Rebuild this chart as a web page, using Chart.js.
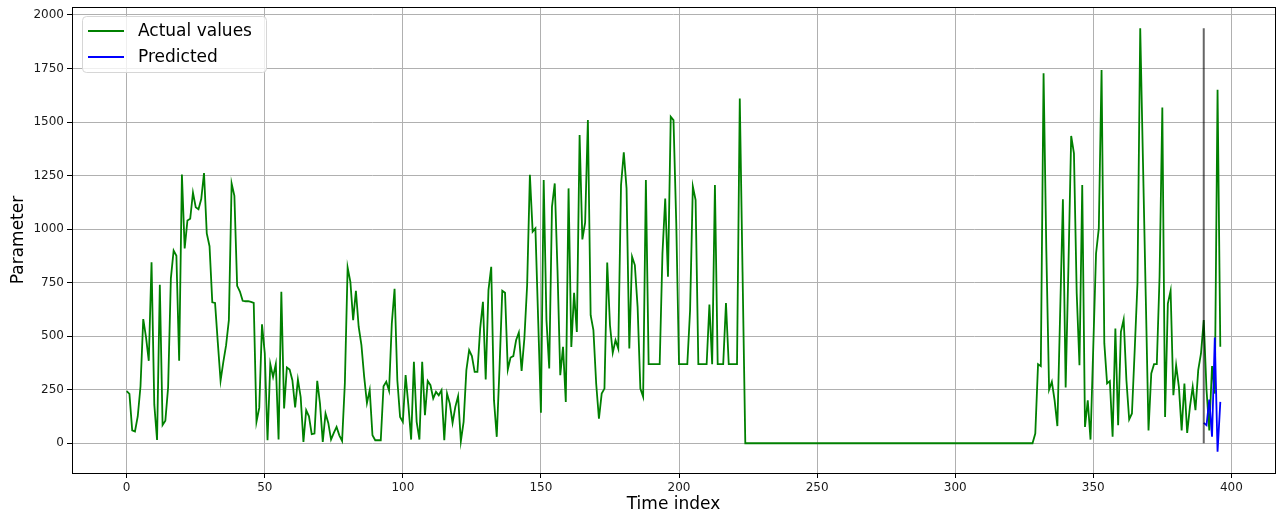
<!DOCTYPE html>
<html>
<head>
<meta charset="utf-8">
<title>Actual values vs Predicted</title>
<script src="https://cdn.jsdelivr.net/npm/chart.js@4/dist/chart.umd.min.js"></script>
<style>
  html, body { margin: 0; padding: 0; background: #fff; }
  #wrap { width: 1279px; height: 520px; position: relative; }
</style>
</head>
<body>
<div id="wrap"><canvas id="chart"></canvas></div>
<script>
// 实际值（时间索引 0..396）
const actualValues = [
    243, 230, 60, 55, 125, 265, 580, 495, 385, 845,
    180, 15, 740, 85, 105, 260, 770, 900, 875, 385,
    1255, 910, 1040, 1048, 1170, 1102, 1093, 1140, 1262, 980,
    920, 658, 655, 470, 292, 380, 458, 575, 1213, 1155,
    735, 708, 665, 663, 663, 660, 655, 100, 165, 555,
    420, 14, 370, 310, 370, 17, 707, 162, 354, 344,
    294, 167, 297, 216, 6, 154, 126, 42, 45, 291,
    185, 6, 139, 95, 17, 48, 76, 37, 11, 280,
    821, 754, 575, 712, 544, 458, 310, 188, 248, 37,
    14, 14, 14, 266, 287, 245, 559, 721, 294, 123,
    100, 318, 178, 17, 380, 100, 17, 380, 131, 291,
    271, 209, 240, 224, 248, 14, 232, 185, 95, 170,
    220, 9, 100, 341, 435, 407, 333, 333, 536, 660,
    298, 715, 824, 200, 30, 350, 712, 703, 344, 400,
    407, 481, 517, 338, 489, 738, 1254, 988, 1003, 575,
    142, 1229, 575, 349, 1104, 1213, 808, 318, 450, 193,
    1190, 450, 702, 520, 1439, 952, 1030, 1509, 598, 528,
    279, 115, 232, 255, 844, 551, 422, 481, 442, 1206,
    1358, 1190, 442, 871, 832, 637, 255, 217, 1229, 369,
    369, 369, 369, 369, 886, 1143, 777, 1525, 1509, 1027,
    369, 369, 369, 369, 620, 1199, 1136, 369, 369, 369,
    369, 648, 369, 1206, 369, 369, 369, 655, 369, 369,
    369, 369, 1610, 800, 0, 0, 0, 0, 0, 0,
    0, 0, 0, 0, 0, 0, 0, 0, 0, 0,
    0, 0, 0, 0, 0, 0, 0, 0, 0, 0,
    0, 0, 0, 0, 0, 0, 0, 0, 0, 0,
    0, 0, 0, 0, 0, 0, 0, 0, 0, 0,
    0, 0, 0, 0, 0, 0, 0, 0, 0, 0,
    0, 0, 0, 0, 0, 0, 0, 0, 0, 0,
    0, 0, 0, 0, 0, 0, 0, 0, 0, 0,
    0, 0, 0, 0, 0, 0, 0, 0, 0, 0,
    0, 0, 0, 0, 0, 0, 0, 0, 0, 0,
    0, 0, 0, 0, 0, 0, 0, 0, 0, 45,
    369, 360, 1728, 900, 250, 287, 200, 80, 606, 1139,
    260, 824, 1435, 1354, 700, 364, 1206, 76, 200, 17,
    450, 886, 1003, 1743, 466, 279, 290, 30, 536, 84,
    520, 578, 294, 111, 139, 435, 746, 1938, 1312, 686,
    60, 326, 369, 369, 777, 1568, 123, 652, 712, 224,
    364, 263, 60, 279, 48, 170, 263, 154, 341, 419,
    575, 250, 60, 360, 232, 1650, 450
];

// 预测值（从索引 390 开始）
const predictedStart = 390;
const predictedValues = [95, 84, 204, 30, 494, -40, 193];

// 分割竖线
const splitIndex = 390;
const splitRange = [0, 1938];

// 坐标轴刻度
const xTickValues = [0, 50, 100, 150, 200, 250, 300, 350, 400];
const yTickValues = [0, 250, 500, 750, 1000, 1250, 1500, 1750, 2000];
const xLimits = [-19.8, 415.8];
const yLimits = [-139, 2037];

const FONT = "'DejaVu Sans', 'Noto Sans', sans-serif";

// 边框（四条边）
const framePlugin = {
    id: 'frame',
    afterDatasetsDraw(chart) {
        const a = chart.chartArea;
        const ctx = chart.ctx;
        ctx.save();
        ctx.strokeStyle = '#000';
        ctx.lineWidth = 1;
        ctx.strokeRect(Math.round(a.left) + 0.5, Math.round(a.top) + 0.5,
            Math.round(a.right - a.left), Math.round(a.bottom - a.top));
        ctx.restore();
    }
};

// 图例（matplotlib 风格，画在图内左上角）
const boxLegendPlugin = {
    id: 'boxLegend',
    afterDraw(chart) {
        const ctx = chart.ctx;
        const items = chart.data.datasets.filter(d => d.label);
        const x = 82, y = 16, w = 184, h = 56;
        ctx.save();
        ctx.beginPath();
        ctx.roundRect(x + 0.5, y + 0.5, w, h, 4);
        ctx.fillStyle = 'rgba(255,255,255,0.8)';
        ctx.fill();
        ctx.strokeStyle = '#d6d6d6';
        ctx.lineWidth = 1;
        ctx.stroke();
        ctx.font = '17px ' + FONT;
        ctx.textBaseline = 'middle';
        ctx.fillStyle = '#000';
        items.forEach((d, k) => {
            const cy = 31 + k * 26;
            ctx.beginPath();
            ctx.moveTo(88, cy);
            ctx.lineTo(124, cy);
            ctx.strokeStyle = d.borderColor;
            ctx.lineWidth = 1.8;
            ctx.stroke();
            ctx.fillText(d.label, 138, cy + 1);
        });
        ctx.restore();
    }
};

document.addEventListener('DOMContentLoaded', function() {
    const ctx = document.getElementById('chart');
    new Chart(ctx, {
        type: 'line',
        data: {
            datasets: [{
                label: 'Actual values',
                data: actualValues.map((v, i) => ({ x: i, y: v })),
                borderColor: '#008000',
                borderWidth: 1.8,
                pointRadius: 0,
                tension: 0,
                order: 3
            }, {
                label: 'Predicted',
                data: predictedValues.map((v, k) => ({ x: predictedStart + k, y: v })),
                borderColor: '#0000ff',
                borderWidth: 1.8,
                pointRadius: 0,
                tension: 0,
                order: 2
            }, {
                label: '',
                data: splitRange.map(v => ({ x: splitIndex, y: v })),
                borderColor: 'rgba(0,0,0,0.6)',
                borderWidth: 2,
                pointRadius: 0,
                order: 1
            }]
        },
        options: {
            responsive: true,
            maintainAspectRatio: false,
            animation: false,
            events: [],
            layout: {
                padding: { top: 7, right: 4, left: 0, bottom: 0 }
            },
            plugins: {
                legend: { display: false },
                tooltip: { enabled: false }
            },
            scales: {
                x: {
                    type: 'linear',
                    min: xLimits[0],
                    max: xLimits[1],
                    afterBuildTicks: s => { s.ticks = xTickValues.map(v => ({ value: v })); },
                    afterFit: s => {
                        s.height = 47;
                        s.paddingLeft = 0;
                        s.paddingRight = 0;
                    },
                    border: { display: false },
                    grid: {
                        color: '#b0b0b0',
                        lineWidth: 1,
                        drawTicks: true,
                        tickLength: 5,
                        tickColor: '#000'
                    },
                    ticks: {
                        color: '#1a1a1a',
                        padding: 3,
                        maxRotation: 0,
                        callback: v => String(v),
                        font: { family: FONT, size: 12 }
                    },
                    title: {
                        display: true,
                        text: 'Time index',
                        color: '#000',
                        padding: { top: 0, bottom: 5 },
                        font: { family: FONT, size: 17 }
                    }
                },
                y: {
                    type: 'linear',
                    min: yLimits[0],
                    max: yLimits[1],
                    afterBuildTicks: s => { s.ticks = yTickValues.map(v => ({ value: v })); },
                    afterFit: s => {
                        s.width = 72;
                        s.paddingTop = 0;
                        s.paddingBottom = 0;
                    },
                    border: { display: false },
                    grid: {
                        color: '#b0b0b0',
                        lineWidth: 1,
                        drawTicks: true,
                        tickLength: 5,
                        tickColor: '#000'
                    },
                    ticks: {
                        color: '#1a1a1a',
                        padding: 3,
                        callback: v => String(v),
                        font: { family: FONT, size: 12 }
                    },
                    title: {
                        display: true,
                        text: 'Parameter',
                        color: '#000',
                        padding: { top: 8, bottom: 0 },
                        font: { family: FONT, size: 17 }
                    }
                }
            }
        },
        plugins: [framePlugin, boxLegendPlugin]
    });
});
</script>
</body>
</html>
